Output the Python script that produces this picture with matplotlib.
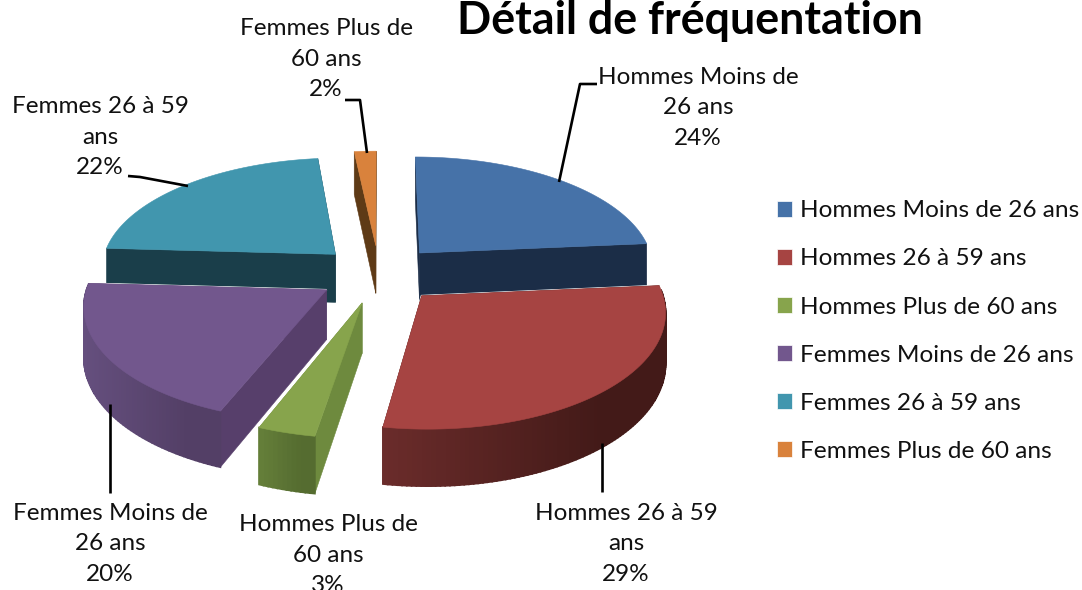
import numpy as np
import matplotlib
matplotlib.use("Agg")
import matplotlib.pyplot as plt
from matplotlib.patches import Patch, Polygon
from matplotlib.colors import to_rgb

plt.rcParams['font.family'] = ['Lato', 'DejaVu Sans']

categories = ["Hommes Moins de 26 ans", "Hommes 26 à 59 ans", "Hommes Plus de 60 ans",
              "Femmes Moins de 26 ans", "Femmes 26 à 59 ans", "Femmes Plus de 60 ans"]
label_lines = [("Hommes Moins de", "26 ans"), ("Hommes 26 à 59", "ans"), ("Hommes Plus de", "60 ans"),
               ("Femmes Moins de", "26 ans"), ("Femmes 26 à 59", "ans"), ("Femmes Plus de", "60 ans")]
# percentages, labels show them rounded
values = [23.6, 29.0, 3.4, 19.9, 22.4, 1.7]

top_colors = ["#4672A8", "#A64442", "#87A44C", "#72578D", "#4196AE", "#D9823C"]
side_colors = ["#1B2D47", "#4A1C1A", "#6E8A3E", "#573F6B", "#1A3E4A", "#5E3A16"]
wall_left = ["#1B2D47", "#6B2C2B", "#66803A", "#654F7E", "#1A3E4A", "#5E3A16"]
wall_right = ["#1B2D47", "#431A18", "#556C30", "#533F66", "#1A3E4A", "#5E3A16"]

# back to front
draw_order = [4, 0, 5, 3, 1, 2]

CX, CY = 379, 274
RX, RY = 236, 112
PERSP = 0.118
EXPLODE = 0.26
DEPTH = 49


def project(x, y, down=False):
    s = 1 / (1 - PERSP * y)
    sx = CX + RX * x * s
    sy = CY + RY * y * s
    if down:
        sy = sy + DEPTH * s
    return np.column_stack([sx, sy])


def slice_geometry(start, end):
    mid = np.radians((start + end) / 2)
    ox, oy = EXPLODE * np.sin(mid), -EXPLODE * np.cos(mid)
    t = np.radians(np.linspace(start, end, max(int(end - start), 2) + 1))
    x = ox + np.sin(t)
    y = oy - np.cos(t)
    return ox, oy, x, y, t


def face(ax, pts, color, zorder, lw=0.4):
    ax.add_patch(Polygon(pts, closed=True, facecolor=color, edgecolor=color, linewidth=lw, zorder=zorder))


def draw_slice(ax, i, start, end, zorder):
    ox, oy, x, y, t = slice_geometry(start, end)
    apex = project(np.array([ox]), np.array([oy]))
    apex_d = project(np.array([ox]), np.array([oy]), down=True)
    top = project(x, y)
    bottom = project(x, y, down=True)

    # thin white outline around the whole piece
    outline = np.vstack([apex, top, apex])
    outline_d = np.vstack([apex_d, bottom, apex_d])
    ax.add_patch(Polygon(outline, closed=True, facecolor="none", edgecolor="white", linewidth=1.4, zorder=zorder))
    ax.add_patch(Polygon(outline_d, closed=True, facecolor="none", edgecolor="white", linewidth=1.4, zorder=zorder))

    # radial sides
    for k in [0, -1]:
        face(ax, np.vstack([apex, top[[k]], bottom[[k]], apex_d]), side_colors[i], zorder + 0.1)

    # outer wall, shaded left to right, only the part that faces the viewer
    c_left, c_right = np.array(to_rgb(wall_left[i])), np.array(to_rgb(wall_right[i]))
    xs = top[:, 0]
    for k in range(len(xs) - 1):
        if np.cos(t[k]) > 0.05 and np.cos(t[k + 1]) > 0.05:
            continue
        f = (xs[k] - xs.min()) / max(xs.max() - xs.min(), 1)
        col = c_left + (c_right - c_left) * min(f * 1.3, 1)
        face(ax, np.vstack([top[k], top[k + 1], bottom[k + 1], bottom[k]]), col, zorder + 0.2, lw=1.2)

    face(ax, np.vstack([apex, top]), top_colors[i], zorder + 0.3)


def main():
    fig = plt.figure(figsize=(10.82, 5.9), dpi=100)
    ax = fig.add_axes([0, 0, 1, 1])
    ax.set_xlim(0, 1082)
    ax.set_ylim(590, 0)
    ax.axis("off")

    edges = np.cumsum([0] + values) * 3.6
    for n, i in enumerate(draw_order):
        draw_slice(ax, i, edges[i], edges[i + 1], 2 + n)

    ax.text(690, 21, "Détail de fréquentation", fontsize=32.3, fontweight="bold", ha="center", va="center", color="black")

    label_pos = [(698, 108), (626, 544), (328, 555), (110, 544), (100, 137), (326, 59)]
    for i, (x, y) in enumerate(label_pos):
        txt = label_lines[i][0] + "\n" + label_lines[i][1] + "\n" + str(round(values[i])) + "%"
        ax.text(x, y, txt, ha="center", va="center", fontsize=17.5, linespacing=1.58, color="#111111", zorder=20)

    leaders = [([597, 580, 559], [84, 84, 182]),
               ([602, 602], [443, 492]),
               ([110, 110], [404, 493]),
               ([128, 140, 188], [176, 177, 186]),
               ([345, 360, 367], [100, 100, 153])]
    for lx, ly in leaders:
        ax.plot(lx, ly, color="black", lw=1.9, zorder=15, solid_capstyle="butt")

    handles = [Patch(facecolor=c, edgecolor="white", linewidth=0.5) for c in top_colors]
    ax.legend(handles, categories, loc="upper left", bbox_to_anchor=(770 / 1082, 1 - 193 / 590),
              frameon=False, fontsize=17.6, handlelength=0.62, handleheight=0.62, handletextpad=0.29,
              labelspacing=1.11, borderaxespad=0, borderpad=0.3, labelcolor="#111111")

    fig.savefig("out.png", dpi=100)


main()
